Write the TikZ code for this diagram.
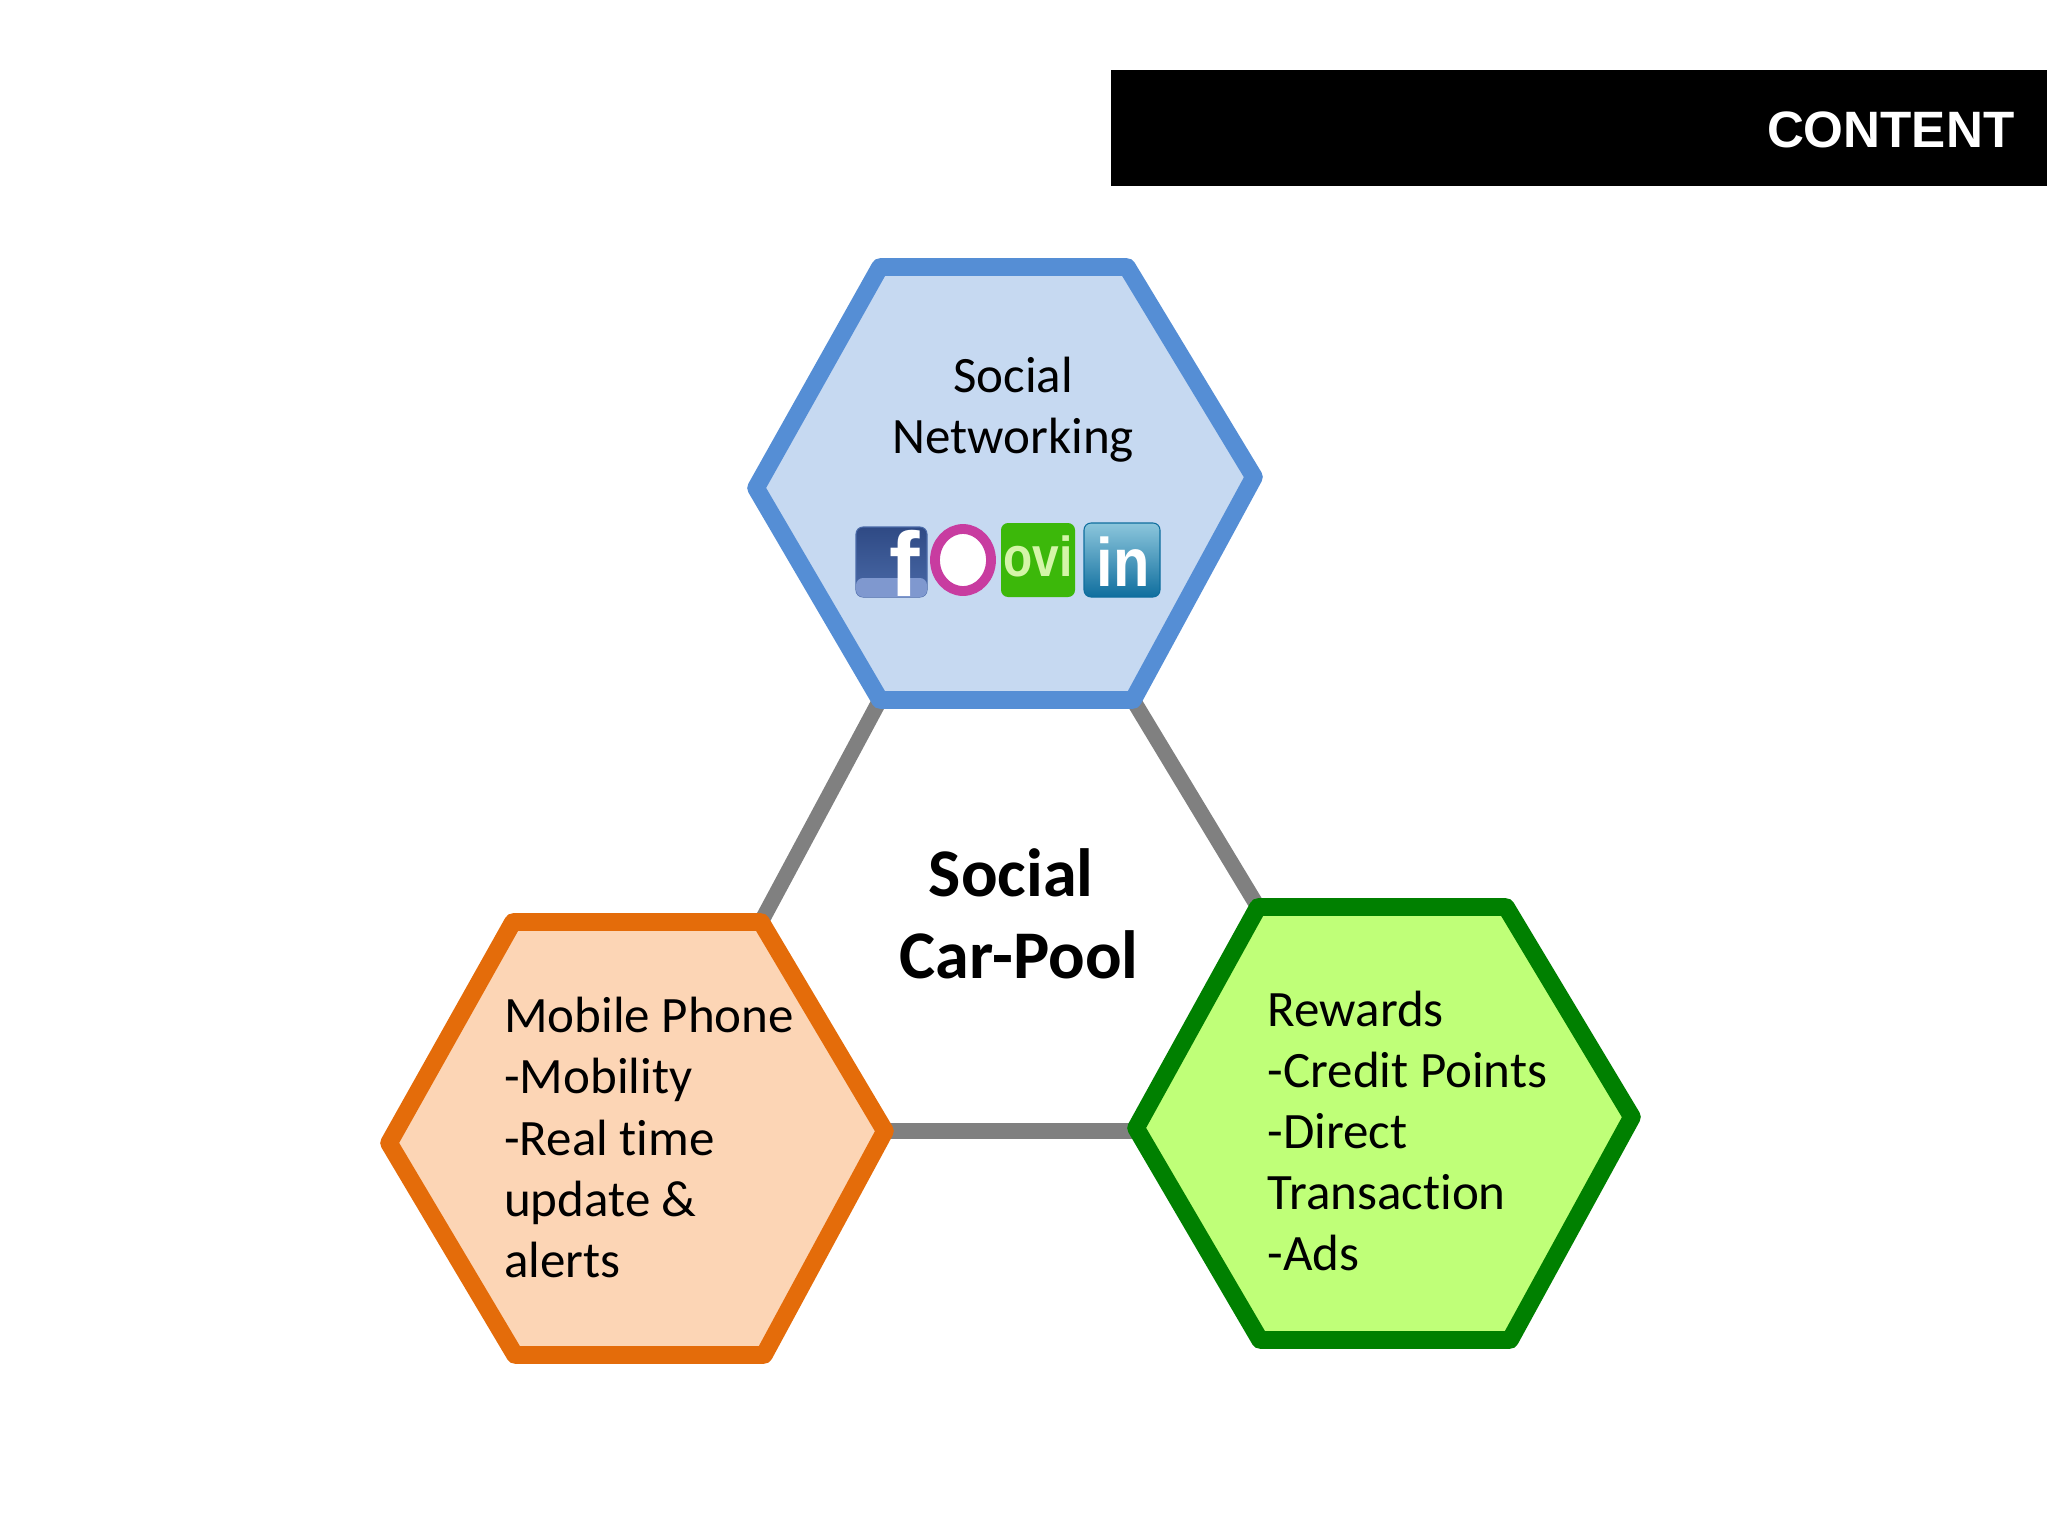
\documentclass[tikz,border=0pt]{standalone}
\usepackage{fontspec}
\setmainfont{Carlito}[RawFeature=-liga]
\newfontfamily\barfont{Liberation Sans}
\definecolor{netfill}{HTML}{C6D9F1}
\definecolor{netline}{HTML}{558ED5}
\definecolor{phonefill}{HTML}{FCD5B5}
\definecolor{phoneline}{HTML}{E46C0A}
\definecolor{rewardfill}{HTML}{BFFF78}
\definecolor{rewardline}{HTML}{008000}
\definecolor{spokeline}{HTML}{808080}
\definecolor{fbtop}{HTML}{2F4A85}
\definecolor{fbbottom}{HTML}{4A6AA8}
\definecolor{fbband}{HTML}{7F98CF}
\definecolor{ringline}{HTML}{C83CA0}
\definecolor{ovifill}{HTML}{3CB80A}
\definecolor{ovitext}{HTML}{D4F5A8}
\definecolor{intop}{HTML}{8CC6DC}
\definecolor{inbottom}{HTML}{0F6E9E}
\tikzset{
  hexline/.style={line width=5pt,line join=round},
  spoke/.style={line width=4.4pt,draw=spokeline},
  bodytext/.style={inner sep=0pt,align=left,font=\fontsize{14.5}{17.4}\selectfont},
  icontext/.style={inner sep=0pt,font=\barfont\bfseries},
}
\begin{document}
\begin{tikzpicture}[x=0.01cm,y=-0.01cm]
 \useasboundingbox (0,0) rectangle (2048,1536);
 % header bar
 \fill[black] (1111,70) rectangle (2047,186);
 \node[anchor=east,inner sep=0pt,text=white,font=\barfont\bfseries\fontsize{14.55}{17}\selectfont] (contenttitle) at (2015,130) {CONTENT};
 % corners the spokes run between
 \coordinate (netll) at (880,700);
 \coordinate (netlr) at (1133,700);
 \coordinate (phoneur) at (761,922);
 \coordinate (phoner) at (885,1131);
 \coordinate (rewardul) at (1258,907);
 \coordinate (rewardl) at (1136,1131);
 \draw[spoke] (netll)--(phoneur);
 \draw[spoke] (netlr)--(rewardul);
 \draw[spoke] (phoner)--(rewardl);
 % hexagons
 \draw[hexline,draw=netline,fill=netfill] (756,488)--(880,267)--(1127,267)--(1254,477)--(netlr)--(netll)--cycle;
 \draw[hexline,draw=phoneline,fill=phonefill] (389,1143)--(513,922)--(phoneur)--(phoner)--(764,1355)--(515,1355)--cycle;
 \draw[hexline,draw=rewardline,fill=rewardfill] (1136,1128)--(rewardul)--(1506,907)--(1632,1117)--(1510,1340)--(1260,1340)--cycle;
 % texts
 \node[bodytext,align=center] (nettext) at (1013,409.5) {Social\\Networking};
 \node[bodytext,anchor=west] (phonetext) at (503.5,1137.5) {Mobile Phone\\-Mobility\\-Real time\\update \&\\alerts};
 \node[bodytext,anchor=west] (rewardtext) at (1267,1131) {Rewards\\-Credit Points\\-Direct\\Transaction\\-Ads};
 \node[inner sep=0pt,align=center,font=\bfseries\fontsize{19.4}{23.4}\selectfont] (cartext) at (1019,913.5) {Social\rule{4.4pt}{0pt}\\Car-Pool};
 % icons
 \draw[rounded corners=2pt,draw=fbbottom,line width=0.3pt,top color=fbtop,bottom color=fbbottom] (856,527) rectangle (927,597);
 \fill[rounded corners=2pt,color=fbband] (856,578) rectangle (927,597);
 \node[icontext,text=white,font=\barfont\bfseries\fontsize{26}{26}\selectfont] (fbicon) at (905,563) {f};
 \draw[line width=2.8pt,draw=ringline,fill=white] (963,560) ellipse (28 and 31);
 \fill[rounded corners=2pt,color=ovifill] (1001,523) rectangle (1075,597);
 \node[icontext,text=ovitext,font=\barfont\bfseries\fontsize{16}{16}\selectfont,xscale=0.85,transform shape] (oviicon) at (1038,556) {ovi};
 \draw[rounded corners=2pt,draw=inbottom,line width=0.3pt,top color=intop,bottom color=inbottom] (1084,523) rectangle (1160,597);
 \node[icontext,text=white,font=\barfont\bfseries\fontsize{19.5}{20}\selectfont,xscale=0.87,transform shape] (inicon) at (1123,562) {in};
\end{tikzpicture}
\end{document}
